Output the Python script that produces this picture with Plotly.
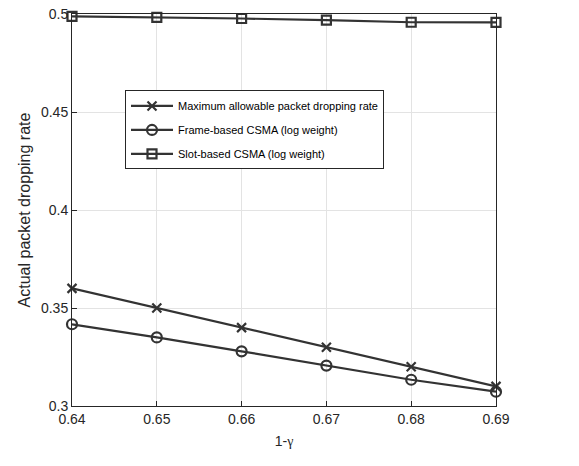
import plotly.graph_objects as go

x_vals = [0.64, 0.65, 0.66, 0.67, 0.68, 0.69]
max_allowable = [0.36, 0.35, 0.34, 0.33, 0.32, 0.31]
frame_based = [0.3417, 0.335, 0.3279, 0.3206, 0.3134, 0.3073]
slot_based = [0.4988, 0.4983, 0.4977, 0.4969, 0.4958, 0.4957]
x_ticks = [0.64, 0.65, 0.66, 0.67, 0.68, 0.69]
y_ticks = [0.3, 0.35, 0.4, 0.45, 0.5]

col = "#333333"
fig = go.Figure()
series = [
    ("Maximum allowable packet dropping rate", max_allowable, "x-thin-open", 9),
    ("Frame-based CSMA (log weight)", frame_based, "circle-open", 10),
    ("Slot-based CSMA (log weight)", slot_based, "square-open", 9),
]
for i, (name, ys, sym, sz) in enumerate(series):
    fig.add_trace(go.Scatter(
        x=x_vals, y=ys, name=name, mode="lines+markers",
        legendgroup=f"g{i}",
        line=dict(color=col, width=2.2),
        marker=dict(symbol=sym, size=sz, color=col, line=dict(color=col, width=2.2)),
        cliponaxis=False,
    ))

fig.update_layout(
    width=579, height=466,
    margin=dict(l=72, r=83, t=14, b=60, autoexpand=False),
    paper_bgcolor="white", plot_bgcolor="white",
    font=dict(family="Liberation Sans, Arial, sans-serif", size=14, color="#262626"),
    showlegend=True,
    legend=dict(
        x=0.125, y=0.805, xanchor="left", yanchor="top",
        bgcolor="white", bordercolor="#262626", borderwidth=1,
        font=dict(family="Liberation Sans, Arial, sans-serif", size=11, color="#000000"),
        tracegroupgap=5, itemwidth=42,
    ),
    xaxis=dict(
        range=[0.64, 0.69], tickvals=x_ticks, ticktext=[f"{v:.2f}" for v in x_ticks],
        showgrid=True, gridcolor="#e3e3e3", gridwidth=1,
        showline=True, linecolor="#262626", linewidth=1, mirror=True,
        ticks="inside", ticklen=5, tickcolor="#262626",
        zeroline=False, automargin=False,
        title=dict(text="1-<span style='font-family:Liberation Serif'>γ</span>", font=dict(size=14), standoff=10),
    ),
    yaxis=dict(
        range=[0.3, 0.5], tickvals=y_ticks, ticktext=["0.3", "0.35", "0.4", "0.45", "0.5"],
        showgrid=True, gridcolor="#e3e3e3", gridwidth=1,
        showline=True, linecolor="#262626", linewidth=1, mirror=True,
        ticks="inside", ticklen=5, tickcolor="#262626",
        zeroline=False, automargin=False,
        title=dict(text="Actual packet dropping rate", font=dict(size=16), standoff=6),
    ),
)

fig.write_html("out.html", config={"displayModeBar": False},
               post_script="document.body.style.margin='0';")
